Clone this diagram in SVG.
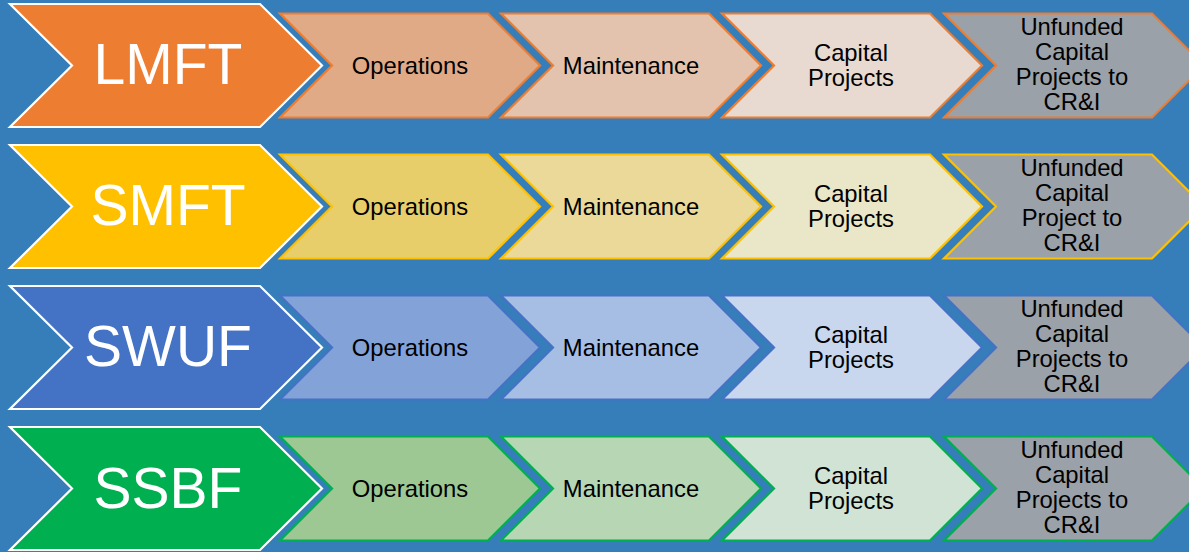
<svg xmlns="http://www.w3.org/2000/svg" xmlns:xlink="http://www.w3.org/1999/xlink" width="1189" height="552" viewBox="0 0 1189 552">
<defs>
<style>
.big{stroke:#FFFFFF;stroke-width:2.2;stroke-linejoin:miter}
.sm{stroke-width:2.2;stroke-linejoin:miter}
.bt{font-family:"Liberation Sans",Arial,sans-serif;font-size:57px;fill:#FFFFFF;text-anchor:middle}
.st{font-family:"Liberation Sans",Arial,sans-serif;font-size:23.8px;fill:#000000;text-anchor:middle}
.r1{stroke:#ED7D31}.r2{stroke:#FFC000}.r3{stroke:#4472C4}.r4{stroke:#00B050}
.gray{fill:#9BA1A8}
</style>
<polygon id="bigShape" points="0,0 250,0 312,61.5 250,123 0,123 62,61.5"/>
<polygon id="smShape" points="0,0 208,0 260,52 208,104 0,104 52,52"/>
</defs>
<rect x="0" y="0" width="1189" height="552" fill="#357EBA"/>

<!-- Row 1 -->
<g id="lmft">
<use xlink:href="#bigShape" href="#bigShape" x="10" y="4" class="big" fill="#ED7D31"/>
<text class="bt" x="168" y="84">LMFT</text>
</g>
<g id="lmft-operations">
<use href="#smShape" x="280" y="13.5" class="sm r1" fill="#E0AA87"/>
<text class="st" x="410" y="73.5">Operations</text>
</g>
<g id="lmft-maintenance">
<use href="#smShape" x="501" y="13.5" class="sm r1" fill="#E3C3AD"/>
<text class="st" x="631" y="73.5">Maintenance</text>
</g>
<g id="lmft-capital">
<use href="#smShape" x="722" y="13.5" class="sm r1" fill="#E8DAD1"/>
<text class="st" x="851" y="61">Capital</text>
<text class="st" x="851" y="86">Projects</text>
</g>
<g id="lmft-unfunded">
<use href="#smShape" x="944" y="13.5" class="sm r1 gray"/>
<text class="st" x="1072" y="35">Unfunded</text>
<text class="st" x="1072" y="60">Capital</text>
<text class="st" x="1072" y="85">Projects to</text>
<text class="st" x="1072" y="110">CR&amp;I</text>
</g>

<!-- Row 2 -->
<g id="smft">
<use href="#bigShape" x="10" y="145" class="big" fill="#FFC000"/>
<text class="bt" x="168" y="225">SMFT</text>
</g>
<g id="smft-operations">
<use href="#smShape" x="280" y="154.5" class="sm r2" fill="#E8CE6A"/>
<text class="st" x="410" y="214.5">Operations</text>
</g>
<g id="smft-maintenance">
<use href="#smShape" x="501" y="154.5" class="sm r2" fill="#EAD999"/>
<text class="st" x="631" y="214.5">Maintenance</text>
</g>
<g id="smft-capital">
<use href="#smShape" x="722" y="154.5" class="sm r2" fill="#EAE6C8"/>
<text class="st" x="851" y="202">Capital</text>
<text class="st" x="851" y="227">Projects</text>
</g>
<g id="smft-unfunded">
<use href="#smShape" x="944" y="154.5" class="sm r2 gray"/>
<text class="st" x="1072" y="176">Unfunded</text>
<text class="st" x="1072" y="201">Capital</text>
<text class="st" x="1072" y="226">Project to</text>
<text class="st" x="1072" y="251">CR&amp;I</text>
</g>

<!-- Row 3 -->
<g id="swuf">
<use href="#bigShape" x="10" y="286" class="big" fill="#4472C4"/>
<text class="bt" x="168" y="366">SWUF</text>
</g>
<g id="swuf-operations">
<use href="#smShape" x="280" y="295.5" class="sm r3" fill="#82A2D8"/>
<text class="st" x="410" y="355.5">Operations</text>
</g>
<g id="swuf-maintenance">
<use href="#smShape" x="501" y="295.5" class="sm r3" fill="#A6BDE4"/>
<text class="st" x="631" y="355.5">Maintenance</text>
</g>
<g id="swuf-capital">
<use href="#smShape" x="722" y="295.5" class="sm r3" fill="#C8D7EE"/>
<text class="st" x="851" y="343">Capital</text>
<text class="st" x="851" y="368">Projects</text>
</g>
<g id="swuf-unfunded">
<use href="#smShape" x="944" y="295.5" class="sm r3 gray"/>
<text class="st" x="1072" y="317">Unfunded</text>
<text class="st" x="1072" y="342">Capital</text>
<text class="st" x="1072" y="367">Projects to</text>
<text class="st" x="1072" y="392">CR&amp;I</text>
</g>

<!-- Row 4 -->
<g id="ssbf">
<use href="#bigShape" x="10" y="427" class="big" fill="#00B050"/>
<text class="bt" x="168" y="508">SSBF</text>
</g>
<g id="ssbf-operations">
<use href="#smShape" x="280" y="436.5" class="sm r4" fill="#9DC893"/>
<text class="st" x="410" y="496.5">Operations</text>
</g>
<g id="ssbf-maintenance">
<use href="#smShape" x="501" y="436.5" class="sm r4" fill="#B6D6B4"/>
<text class="st" x="631" y="496.5">Maintenance</text>
</g>
<g id="ssbf-capital">
<use href="#smShape" x="722" y="436.5" class="sm r4" fill="#D0E3D5"/>
<text class="st" x="851" y="484">Capital</text>
<text class="st" x="851" y="509">Projects</text>
</g>
<g id="ssbf-unfunded">
<use href="#smShape" x="944" y="436.5" class="sm r4 gray"/>
<text class="st" x="1072" y="458">Unfunded</text>
<text class="st" x="1072" y="483">Capital</text>
<text class="st" x="1072" y="508">Projects to</text>
<text class="st" x="1072" y="533">CR&amp;I</text>
</g>
</svg>
